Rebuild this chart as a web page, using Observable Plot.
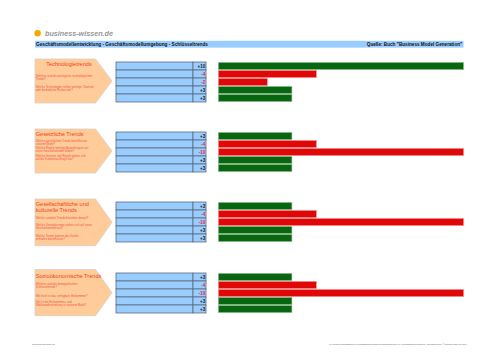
<!DOCTYPE html>
<html><head><meta charset="utf-8">
<script src="https://cdn.jsdelivr.net/npm/d3@7"></script>
<script src="https://cdn.jsdelivr.net/npm/@observablehq/plot@0.6"></script>
<style>
body{margin:0;background:#fff}
#page{position:relative;width:500px;height:354px;overflow:hidden;font-family:"Liberation Sans",Arial,sans-serif}
#page svg{position:absolute}
</style>
</head><body><div id="page"></div>
<script>
// ---------- data ----------
const headerTitle = "Geschäftsmodellentwicklung - Geschäftsmodellumgebung - Schlüsseltrends";
const headerSource = "Quelle: Buch \"Business Model Generation\"";
const brand = "business-wissen.de";
const footerLeft = "www.business-wissen.de";
const footerRight = "M:\\Vorlagen\\Geschäftsmodelle\\Geschäftsmodellentwicklung-Schlüsseltrends.xls | Geschäftsmodellumgebung - Schlüsseltrends | © business-wissen.de 2014";

const groupTitles = [
  ["Technologietrends"],
  ["Gesetzliche Trends"],
  ["Gesellschaftliche und", "kulturelle Trends"],
  ["Sozioökonomische Trends"]
];
const groupQuestions = [
  [["Welches sind die wichtigsten technologischen", "Trends?"],
   ["Welche Technologien stellen wichtige Chancen", "oder bedrohliche Risiken dar?"]],
  [["Welche gesetzlichen Trends beeinflussen", "unseren Markt?"],
   ["Welche Regeln könnten Auswirkungen auf", "unser Geschäftsmodell haben?"],
   ["Welche Gesetze und Regeln wirken sich", "auf die Kundennachfrage aus?"]],
  [["Welche sozialen Trends bestehen derzeit?"],
   ["Welche Veränderungen wirken sich auf unser", "Geschäftsmodell aus?"],
   ["Welche Trends können das Käufer-", "verhalten beeinflussen?"]],
  [["Welches sind die demografischen", "Schlüsseltrends?"],
   ["Wie hoch ist das verfügbare Einkommen?"],
   ["Wie ist die Einkommens- und", "Wohlstandsverteilung in unserem Markt?"]]
];
const groupValues = [
  [10, -4, -2, 3, 3],
  [3, -4, -10, 3, 3],
  [3, -4, -10, 3, 3],
  [3, -4, -10, 3, 3]
];
const groupValueLabels = [
  ["+10", "-4", "-2", "+3", "+3"],
  ["+3", "-4", "-10", "+3", "+3"],
  ["+3", "-4", "-10", "+3", "+3"],
  ["+3", "-4", "-10", "+3", "+3"]
];
const rowIds = [0, 1, 2, 3, 4];

// ---------- layout ----------
const page = document.getElementById("page");
const GREEN = "#07660f", RED = "#df0707";
const tops = [60, 130, 200, 270.5];
const FONT = "Liberation Sans, Arial, sans-serif";

// decoration svg (header, arrows, texts, footer)
const deco = d3.select(page).append("svg").attr("width", 500).attr("height", 354)
  .style("left", "0px").style("top", "0px").style("font-family", FONT);

deco.append("circle").attr("cx", 37.6).attr("cy", 33.3).attr("r", 3.2).attr("fill", "#f5a800");
deco.append("text").attr("x", 45).attr("y", 35.8).attr("font-size", 7.3).attr("font-weight", "bold")
  .attr("font-style", "italic").attr("fill", "#999").attr("textLength", 68).attr("lengthAdjust", "spacingAndGlyphs").text(brand);

deco.append("rect").attr("x", 35).attr("y", 40.8).attr("width", 428.5).attr("height", 6.8).attr("fill", "#99ccff");
deco.append("text").attr("x", 36).attr("y", 45.9).attr("font-size", 4.5).attr("font-weight", "bold").attr("fill", "#111")
  .attr("textLength", 172).attr("lengthAdjust", "spacingAndGlyphs").text(headerTitle);
deco.append("text").attr("x", 462.3).attr("y", 45.9).attr("text-anchor", "end").attr("font-size", 4.5).attr("font-weight", "bold").attr("fill", "#111")
  .attr("textLength", 95.5).attr("lengthAdjust", "spacingAndGlyphs").text(headerSource);

deco.append("text").attr("x", 32).attr("y", 345.2).attr("font-size", 2.3).attr("fill", "#666")
  .attr("textLength", 23).attr("lengthAdjust", "spacingAndGlyphs").text(footerLeft);
deco.append("text").attr("x", 329).attr("y", 345.2).attr("font-size", 2.3).attr("fill", "#666")
  .attr("textLength", 138).attr("lengthAdjust", "spacingAndGlyphs").text(footerRight);

// per-group arrow and text layout (relative to group top)
const arrowH = [44, 44, 46.7, 46.2];
const titleY = [[6.2], [6], [6, 12], [7.5]];
const titleX = [69, 35.7, 35.7, 35.7];
const questionY = [
  [[17, 20], [28.3, 31]],
  [[11.7, 14.7], [19.3, 22], [27, 30]],
  [[19.3], [26.3, 29], [37, 40]],
  [[14.8, 17.5], [26.2], [32.8, 35.5]]
];

groupTitles.forEach((lines, g) => {
  const t = tops[g] - 1, h = arrowH[g];
  const pts = [[35, t], [95.5, t], [112, t + h / 2], [95.5, t + h], [35, t + h]];
  deco.append("polygon").attr("points", pts.map(p => p.join(",")).join(" "))
    .attr("fill", "#ffcc99").attr("stroke", "#d8cfc6").attr("stroke-width", 0.8);
  lines.forEach((ln, i) => {
    deco.append("text").attr("x", titleX[g]).attr("y", tops[g] + titleY[g][i])
      .attr("text-anchor", g === 0 ? "middle" : "start")
      .attr("font-size", 5.6).attr("fill", "#f0401e").text(ln);
  });
  groupQuestions[g].forEach((q, qi) => {
    q.forEach((ln, li) => {
      deco.append("text").attr("x", 35.7).attr("y", tops[g] + questionY[g][qi][li])
        .attr("font-size", 2.8).attr("fill", "#f05040").text(ln);
    });
  });
});

// ---------- plots ----------
function place(svg, left, top) {
  svg.style.left = left + "px";
  svg.style.top = top + "px";
  page.appendChild(svg);
}

groupValues.forEach((vals, g) => {
  const rows = rowIds.map(i => ({row: i, value: vals[i], label: groupValueLabels[g][i]}));
  const H = 43.6;
  const common = {
    height: H, marginTop: 0, marginBottom: 0,
    y: {domain: rowIds, axis: null, padding: 0},
    style: {background: "transparent", overflow: "visible", fontFamily: FONT}
  };

  // question column of the table
  place(Plot.plot({
    ...common, width: 77, marginLeft: 0, marginRight: 0,
    marks: [Plot.cell(rows, {y: "row", fill: "#99ccff", stroke: "#5d6b7c", strokeWidth: 0.8})]
  }), 116, tops[g]);

  // value column of the table
  place(Plot.plot({
    ...common, width: 13, marginLeft: 0, marginRight: 0,
    color: {type: "identity"},
    marks: [
      Plot.cell(rows, {y: "row", fill: "#99ccff", stroke: "#5d6b7c", strokeWidth: 0.8}),
      Plot.text(rows, {y: "row", text: "label", frameAnchor: "right", dx: -1.3,
        fill: d => d.value < 0 ? "#e8243a" : "#1a1a1a", fontSize: 4.5, fontWeight: "bold"})
    ]
  }), 193, tops[g]);

  // bars
  place(Plot.plot({
    ...common, width: 252, marginLeft: 2.3, marginRight: 252 - 2.3 - 245.4,
    x: {domain: [0, 10], axis: null},
    color: {type: "identity"},
    marks: [
      Plot.barX(rows, {x: d => Math.abs(d.value), y: "row",
        fill: d => d.value < 0 ? RED : GREEN,
        stroke: d => d.value < 0 ? "#f3a0a0" : "#9cc59c", strokeWidth: 0.6,
        insetTop: 0.35, insetBottom: 0.35})
    ]
  }), 216, tops[g]);
});
</script>
</body></html>
